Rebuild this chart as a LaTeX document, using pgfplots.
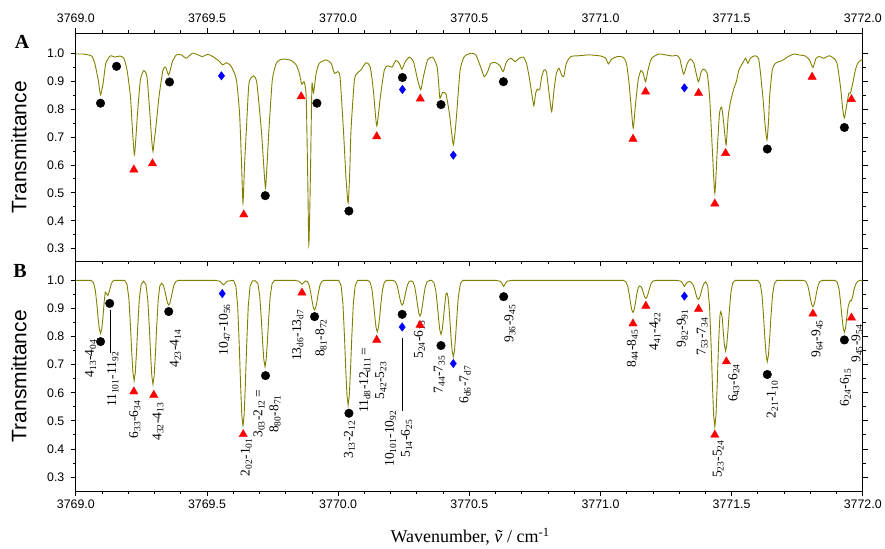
\documentclass[border=0pt]{standalone}
\usepackage{fontspec}
\setmainfont{Liberation Serif}
\setsansfont{Liberation Sans}
\usepackage{pgfplots}
\pgfplotsset{compat=1.18}
\definecolor{spec}{RGB}{128,128,0}
\newcommand{\tr}[4]{#1\textsubscript{#2}-#3\textsubscript{#4}}

\tikzset{lbl/.style={rotate=90, font=\fontsize{13.5}{16}\selectfont, align=center, inner sep=0pt}}
\pgfplotsset{
  panel/.style={
    scale only axis, width=788pt, xmin=3769, xmax=3772,
    xtick={3769,3769.5,3770,3770.5,3771,3771.5,3772}, minor x tick num=4,
    ytick={0.3,0.4,0.5,0.6,0.7,0.8,0.9,1.0}, minor y tick num=1,
    tick align=outside, major tick length=5pt, minor tick length=3pt,
    ytick pos=both, yticklabel pos=left,
    axis line style={line width=1pt}, tick style={line width=0.8pt,black},
    tick label style={font=\sffamily\fontsize{12.4}{14}\selectfont},
    /pgf/number format/assume math mode=true,
    xticklabel style={/pgf/number format/.cd,fixed,fixed zerofill,precision=1,1000 sep={}},
    yticklabel style={xshift=-3pt,/pgf/number format/.cd,fixed,fixed zerofill,precision=1},
    ylabel={Transmittance},
    ylabel style={font=\sffamily\fontsize{21}{24}\selectfont,
      at={(axis description cs:-0.0723,0.5)}, anchor=center},
    clip=false,
  },
  circ/.style={only marks, mark=*, mark size=4.3pt, mark options={draw=black, fill=black}},
  tri/.style={only marks, mark=triangle*, mark size=4.8pt, mark options={draw=red, fill=red}},
  dia/.style={only marks, mark=diamond*, mark size=4.2pt, mark options={draw=blue, fill=blue}},
}

\begin{document}
\begin{tikzpicture}

% ---------- panel A: measured spectrum
\begin{axis}[panel, name=A, height=228.5pt, ymin=0.2545, ymax=1.0715,
  xtick pos=both, xticklabel pos=right, xticklabel shift=2pt]

\addplot[spec, line width=0.9pt, smooth, tension=0.35] coordinates {
(3769.000,0.997) (3769.028,0.997) (3769.060,0.990) (3769.072,0.964) (3769.085,0.905)
(3769.094,0.851) (3769.104,0.893) (3769.114,0.964) (3769.132,0.991) (3769.148,0.986)
(3769.168,0.990) (3769.183,0.982) (3769.195,0.940) (3769.208,0.845) (3769.216,0.720)
(3769.223,0.636) (3769.229,0.700) (3769.235,0.785) (3769.246,0.905) (3769.259,0.938)
(3769.271,0.916) (3769.282,0.785) (3769.289,0.690) (3769.294,0.648) (3769.299,0.690)
(3769.304,0.726) (3769.317,0.845) (3769.332,0.940) (3769.342,0.950) (3769.354,0.922)
(3769.368,0.970) (3769.383,0.994) (3769.402,0.994) (3769.421,0.982) (3769.444,1.000)
(3769.466,0.994) (3769.482,0.988) (3769.503,0.996) (3769.522,0.988) (3769.548,0.970)
(3769.560,0.958) (3769.575,0.966) (3769.593,0.952) (3769.612,0.905) (3769.624,0.785)
(3769.631,0.620) (3769.637,0.464) (3769.643,0.600) (3769.650,0.726) (3769.660,0.893)
(3769.678,0.919) (3769.690,0.893) (3769.707,0.726) (3769.716,0.600) (3769.723,0.517)
(3769.730,0.620) (3769.736,0.726) (3769.749,0.905) (3769.764,0.964) (3769.778,0.976)
(3769.796,0.979) (3769.821,0.974) (3769.840,0.958) (3769.852,0.928) (3769.861,0.889)
(3769.870,0.898) (3769.878,0.845) (3769.884,0.550) (3769.888,0.314) (3769.892,0.450)
(3769.895,0.607) (3769.900,0.887) (3769.906,0.857) (3769.916,0.928) (3769.928,0.964)
(3769.954,0.976) (3769.973,0.964) (3769.986,0.928) (3769.998,0.934) (3770.007,0.916)
(3770.020,0.726) (3770.030,0.550) (3770.038,0.464) (3770.044,0.570) (3770.049,0.726)
(3770.062,0.905) (3770.075,0.931) (3770.087,0.940) (3770.106,0.966) (3770.122,0.952)
(3770.134,0.869) (3770.147,0.740) (3770.161,0.845) (3770.176,0.940) (3770.189,0.955)
(3770.205,0.950) (3770.220,0.974) (3770.233,0.964) (3770.243,0.943) (3770.256,0.970)
(3770.272,0.986) (3770.287,0.970) (3770.303,0.905) (3770.315,0.869) (3770.325,0.916)
(3770.341,0.976) (3770.360,0.986) (3770.377,0.952) (3770.384,0.880) (3770.388,0.839)
(3770.398,0.859) (3770.411,0.854) (3770.424,0.785) (3770.432,0.720) (3770.439,0.672)
(3770.446,0.720) (3770.452,0.785) (3770.465,0.940) (3770.481,0.988) (3770.506,1.000)
(3770.525,0.994) (3770.545,0.946) (3770.557,0.916) (3770.570,0.934) (3770.582,0.964)
(3770.601,0.966) (3770.617,0.955) (3770.629,0.934) (3770.642,0.970) (3770.658,0.982)
(3770.675,0.970) (3770.690,0.982) (3770.706,0.986) (3770.718,0.964) (3770.728,0.916)
(3770.738,0.857) (3770.746,0.812) (3770.753,0.857) (3770.759,0.871) (3770.768,0.869)
(3770.776,0.916) (3770.785,0.940) (3770.794,0.934) (3770.804,0.857) (3770.814,0.791)
(3770.823,0.869) (3770.832,0.928) (3770.842,0.946) (3770.852,0.922) (3770.860,0.916)
(3770.870,0.964) (3770.887,0.988) (3770.918,0.991) (3770.957,0.994) (3771.001,0.990)
(3771.020,0.982) (3771.030,0.962) (3771.043,0.979) (3771.064,0.988) (3771.086,0.986)
(3771.099,0.964) (3771.109,0.893) (3771.118,0.797) (3771.125,0.732) (3771.134,0.821)
(3771.144,0.905) (3771.154,0.938) (3771.163,0.928) (3771.172,0.898) (3771.182,0.943)
(3771.195,0.982) (3771.223,0.997) (3771.248,0.994) (3771.274,0.990) (3771.290,0.992)
(3771.302,0.982) (3771.317,0.925) (3771.331,0.964) (3771.343,0.979) (3771.356,0.964)
(3771.373,0.898) (3771.384,0.934) (3771.394,0.943) (3771.407,0.928) (3771.416,0.845)
(3771.426,0.666) (3771.436,0.499) (3771.446,0.666) (3771.454,0.785) (3771.462,0.807)
(3771.470,0.750) (3771.479,0.672) (3771.487,0.773) (3771.496,0.827) (3771.509,0.875)
(3771.518,0.898) (3771.528,0.940) (3771.543,0.966) (3771.553,0.982) (3771.562,0.964)
(3771.572,0.982) (3771.589,0.991) (3771.604,0.976) (3771.619,0.845) (3771.628,0.740)
(3771.635,0.690) (3771.641,0.760) (3771.645,0.845) (3771.655,0.940) (3771.667,0.964)
(3771.693,0.974) (3771.712,0.986) (3771.737,0.997) (3771.756,0.994) (3771.781,0.990)
(3771.797,0.976) (3771.810,0.949) (3771.822,0.982) (3771.835,0.988) (3771.851,0.982)
(3771.873,0.991) (3771.889,0.982) (3771.902,0.964) (3771.915,0.881) (3771.924,0.797)
(3771.930,0.768) (3771.938,0.809) (3771.947,0.857) (3771.953,0.857) (3771.962,0.893)
(3771.972,0.940) (3771.982,0.966) (3771.995,0.976) (3772.000,0.976)
};

\addplot[circ] coordinates {
(3769.094,0.821) (3769.155,0.953) (3769.357,0.897) (3769.722,0.490) (3769.919,0.821)
(3770.041,0.435) (3770.245,0.913) (3770.392,0.816) (3770.630,0.898) (3771.636,0.657)
(3771.930,0.734)
};
\addplot[tri] coordinates {
(3769.221,0.583) (3769.292,0.605) (3769.640,0.422) (3769.859,0.845) (3770.147,0.702)
(3770.313,0.837) (3771.124,0.693) (3771.172,0.862) (3771.374,0.857) (3771.436,0.461)
(3771.477,0.642) (3771.807,0.915) (3771.957,0.835)
};
\addplot[dia] coordinates {
(3769.555,0.919) (3770.245,0.870) (3770.439,0.635) (3771.320,0.876)
};

\node[font=\bfseries\fontsize{20}{24}\selectfont] at (rel axis cs:-0.0685,0.96) {A};
\end{axis}

% ---------- panel B: simulated spectrum
\begin{axis}[panel, name=B, at={(A.south west)}, anchor=north west,
  height=230pt, ymin=0.250, ymax=1.0675,
  xtick pos=left, xticklabel pos=left,
  xlabel={Wavenumber, \textit{\~{v}} / cm\textsuperscript{-1}},
  xlabel style={font=\fontsize{18}{20}\selectfont,
    at={(axis description cs:0.501,-0.198)}, anchor=center}]

\addplot[spec, line width=0.9pt] coordinates {
(3769.000,1) (3769.058,1) (3769.067,0.992) (3769.074,0.966) (3769.080,0.915)
(3769.085,0.864) (3769.0895,0.826) (3769.094,0.811) (3769.0985,0.826) (3769.103,0.866)
(3769.108,0.925) (3769.112,0.958) (3769.117,0.952) (3769.122,0.946) (3769.128,0.962)
(3769.134,0.985) (3769.140,0.997) (3769.148,1) (3769.186,1) (3769.195,0.986)
(3769.202,0.936) (3769.208,0.839) (3769.213,0.743) (3769.2175,0.672) (3769.222,0.643)
(3769.2265,0.672) (3769.231,0.743) (3769.236,0.839) (3769.242,0.936) (3769.249,0.986)
(3769.258,0.997) (3769.267,0.985) (3769.274,0.933) (3769.280,0.834) (3769.285,0.734)
(3769.2895,0.660) (3769.294,0.630) (3769.2985,0.660) (3769.303,0.734) (3769.308,0.834)
(3769.314,0.933) (3769.320,0.980) (3769.327,0.990) (3769.334,0.982) (3769.340,0.960)
(3769.345,0.937) (3769.3495,0.919) (3769.354,0.912) (3769.3585,0.919) (3769.363,0.937)
(3769.368,0.960) (3769.374,0.984) (3769.381,0.996) (3769.390,1) (3769.530,1)
(3769.550,0.997) (3769.556,0.990) (3769.563,0.984) (3769.570,0.990) (3769.576,0.997)
(3769.601,1) (3769.610,0.979) (3769.617,0.906) (3769.623,0.766) (3769.628,0.626)
(3769.6325,0.522) (3769.637,0.480) (3769.6415,0.522) (3769.646,0.626) (3769.651,0.766)
(3769.657,0.906) (3769.664,0.979) (3769.673,0.998) (3769.685,0.998) (3769.694,0.988)
(3769.701,0.945) (3769.707,0.862) (3769.712,0.779) (3769.7165,0.718) (3769.721,0.693)
(3769.7255,0.718) (3769.730,0.779) (3769.735,0.862) (3769.741,0.945) (3769.748,0.988)
(3769.757,1) (3769.835,1) (3769.850,0.997) (3769.856,0.992) (3769.862,0.986)
(3769.868,0.992) (3769.875,0.998) (3769.883,0.996) (3769.890,0.981) (3769.896,0.953)
(3769.901,0.924) (3769.9055,0.903) (3769.910,0.895) (3769.9145,0.903) (3769.919,0.924)
(3769.924,0.953) (3769.930,0.981) (3769.937,0.996) (3769.946,1) (3770.002,1)
(3770.011,0.982) (3770.018,0.920) (3770.024,0.800) (3770.029,0.680) (3770.0335,0.592)
(3770.038,0.556) (3770.0425,0.592) (3770.047,0.680) (3770.052,0.800) (3770.058,0.920)
(3770.065,0.982) (3770.074,1) (3770.113,1) (3770.122,0.993) (3770.129,0.967)
(3770.135,0.918) (3770.140,0.868) (3770.1445,0.832) (3770.149,0.817) (3770.1535,0.832)
(3770.158,0.868) (3770.163,0.918) (3770.169,0.967) (3770.176,0.993) (3770.185,1)
(3770.208,1) (3770.217,0.996) (3770.224,0.984) (3770.230,0.960) (3770.235,0.937)
(3770.2395,0.919) (3770.244,0.912) (3770.2485,0.919) (3770.253,0.937) (3770.258,0.960)
(3770.264,0.984) (3770.271,0.996) (3770.278,0.998) (3770.285,0.995) (3770.292,0.977)
(3770.298,0.943) (3770.303,0.909) (3770.3075,0.883) (3770.312,0.873) (3770.3165,0.883)
(3770.321,0.909) (3770.326,0.943) (3770.332,0.977) (3770.339,0.995) (3770.350,1)
(3770.356,1) (3770.365,0.992) (3770.372,0.965) (3770.378,0.914) (3770.383,0.862)
(3770.3875,0.823) (3770.392,0.808) (3770.3965,0.823) (3770.401,0.862) (3770.406,0.910)
(3770.411,0.952) (3770.415,0.955) (3770.419,0.940) (3770.423,0.900) (3770.4265,0.850)
(3770.430,0.800) (3770.4345,0.750) (3770.439,0.728) (3770.4435,0.750) (3770.448,0.804)
(3770.453,0.876) (3770.458,0.940) (3770.466,0.989) (3770.475,1) (3770.600,1)
(3770.618,0.997) (3770.624,0.990) (3770.631,0.978) (3770.638,0.990) (3770.644,0.997)
(3770.660,1) (3771.088,1) (3771.097,0.995) (3771.104,0.979) (3771.110,0.949)
(3771.115,0.918) (3771.1195,0.895) (3771.124,0.886) (3771.1285,0.895) (3771.133,0.918)
(3771.138,0.949) (3771.144,0.974) (3771.149,0.980) (3771.154,0.978) (3771.159,0.970)
(3771.164,0.954) (3771.1685,0.941) (3771.173,0.936) (3771.1775,0.941) (3771.182,0.954)
(3771.187,0.971) (3771.193,0.988) (3771.200,0.997) (3771.210,1) (3771.290,1)
(3771.307,0.997) (3771.313,0.990) (3771.320,0.978) (3771.327,0.990) (3771.334,0.995)
(3771.340,0.996) (3771.346,0.993) (3771.353,0.984) (3771.359,0.969) (3771.364,0.951)
(3771.3685,0.937) (3771.373,0.932) (3771.3775,0.937) (3771.382,0.951) (3771.387,0.969)
(3771.393,0.986) (3771.400,0.995) (3771.405,0.990) (3771.409,0.979) (3771.416,0.906)
(3771.422,0.766) (3771.427,0.625) (3771.4315,0.520) (3771.436,0.479) (3771.4405,0.520)
(3771.445,0.625) (3771.450,0.766) (3771.4535,0.840) (3771.456,0.880) (3771.459,0.889)
(3771.464,0.870) (3771.468,0.820) (3771.4725,0.770) (3771.477,0.749) (3771.4815,0.770)
(3771.486,0.819) (3771.491,0.887) (3771.497,0.955) (3771.504,0.990) (3771.513,1)
(3771.600,1) (3771.609,0.988) (3771.616,0.948) (3771.622,0.870) (3771.627,0.792)
(3771.6315,0.734) (3771.636,0.711) (3771.6405,0.734) (3771.645,0.792) (3771.650,0.870)
(3771.656,0.948) (3771.663,0.988) (3771.672,1) (3771.774,1) (3771.783,0.996)
(3771.790,0.983) (3771.796,0.958) (3771.801,0.932) (3771.8055,0.914) (3771.810,0.906)
(3771.8145,0.914) (3771.819,0.932) (3771.824,0.958) (3771.830,0.983) (3771.837,0.996)
(3771.846,1) (3771.894,1) (3771.903,0.993) (3771.910,0.967) (3771.916,0.917)
(3771.921,0.867) (3771.9255,0.830) (3771.930,0.815) (3771.9345,0.830) (3771.939,0.867)
(3771.944,0.905) (3771.949,0.922) (3771.953,0.928) (3771.957,0.928) (3771.962,0.945)
(3771.968,0.972) (3771.975,0.990) (3771.983,0.998) (3771.990,1) (3772.000,1)
};

\addplot[circ] coordinates {
(3769.094,0.782) (3769.129,0.918) (3769.354,0.889) (3769.723,0.661) (3769.910,0.871)
(3770.041,0.527) (3770.244,0.879) (3770.392,0.768) (3770.631,0.942) (3771.636,0.665)
(3771.930,0.788)
};
\addplot[tri] coordinates {
(3769.221,0.604) (3769.297,0.592) (3769.638,0.452) (3769.862,0.956) (3770.147,0.788)
(3770.312,0.841) (3771.124,0.846) (3771.173,0.909) (3771.374,0.898) (3771.436,0.450)
(3771.480,0.711) (3771.810,0.881) (3771.957,0.867)
};
\addplot[dia] coordinates {
(3769.558,0.953) (3770.244,0.834) (3770.439,0.704) (3771.320,0.944)
};

% leader lines
\draw[line width=0.8pt] (axis cs:3769.130,0.893) -- (axis cs:3769.130,0.742);
\draw[line width=0.8pt] (axis cs:3770.244,0.795) -- (axis cs:3770.244,0.534);

% transition labels
\node[lbl] at (axis cs:3769.056,0.722) {\tr{4}{13}{4}{04}};
\node[lbl] at (axis cs:3769.141,0.648) {\tr{11}{101}{11}{92}};
\node[lbl] at (axis cs:3769.225,0.505) {\tr{6}{33}{6}{34}};
\node[lbl] at (axis cs:3769.313,0.497) {\tr{4}{32}{4}{13}};
\node[lbl] at (axis cs:3769.379,0.757) {\tr{4}{23}{4}{14}};
\node[lbl] at (axis cs:3769.567,0.825) {\tr{10}{47}{10}{56}};
\node[lbl] at (axis cs:3769.650,0.371) {\tr{2}{02}{1}{01}};
\node[lbl] at (axis cs:3769.729,0.525) {\tr{3}{03}{2}{12}\,=\\\tr{8}{80}{8}{71}};
\node[lbl] at (axis cs:3769.846,0.805) {\tr{13}{d6}{13}{d7}};
\node[lbl] at (axis cs:3769.935,0.795) {\tr{8}{81}{8}{72}};
\node[lbl] at (axis cs:3770.043,0.433) {\tr{3}{13}{2}{12}};
\node[lbl] at (axis cs:3770.132,0.644) {\tr{11}{d8}{12}{d11}\,=\\\tr{5}{42}{5}{23}};
\node[lbl] at (axis cs:3770.230,0.437) {\tr{10}{101}{10}{92}\\\tr{5}{14}{6}{25}};
\node[lbl] at (axis cs:3770.310,0.789) {\tr{5}{24}{6}{15}};
\node[lbl] at (axis cs:3770.386,0.665) {\tr{7}{44}{7}{35}};
\node[lbl] at (axis cs:3770.484,0.629) {\tr{6}{d6}{7}{d7}};
\node[lbl] at (axis cs:3770.655,0.846) {\tr{9}{36}{9}{45}};
\node[lbl] at (axis cs:3771.122,0.757) {\tr{8}{44}{8}{45}};
\node[lbl] at (axis cs:3771.207,0.819) {\tr{4}{41}{4}{22}};
\node[lbl] at (axis cs:3771.312,0.830) {\tr{9}{82}{9}{91}};
\node[lbl] at (axis cs:3771.388,0.800) {\tr{7}{53}{7}{34}};
\node[lbl] at (axis cs:3771.449,0.364) {\tr{5}{23}{5}{24}};
\node[lbl] at (axis cs:3771.509,0.635) {\tr{6}{43}{6}{24}};
\node[lbl] at (axis cs:3771.655,0.576) {\tr{2}{21}{1}{10}};
\node[lbl] at (axis cs:3771.826,0.792) {\tr{9}{64}{9}{45}};
\node[lbl] at (axis cs:3771.934,0.620) {\tr{6}{24}{6}{15}};
\node[lbl] at (axis cs:3771.978,0.775) {\tr{9}{45}{9}{54}};

\node[font=\bfseries\fontsize{20}{24}\selectfont] at (rel axis cs:-0.071,0.96) {B};
\end{axis}

\path ([xshift=-76pt,yshift=33.3pt]A.north west) rectangle ([xshift=21pt,yshift=-57.3pt]B.south east);
\end{tikzpicture}
\end{document}
